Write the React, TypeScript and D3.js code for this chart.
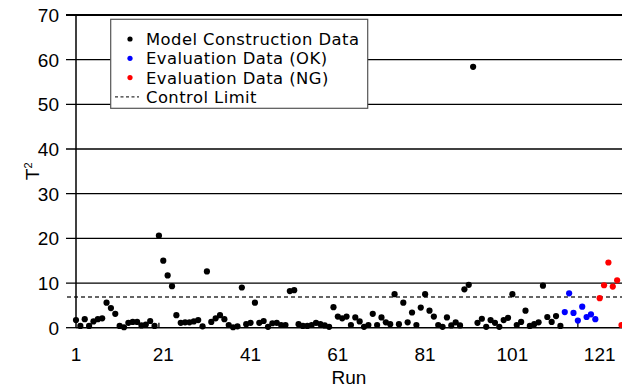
import React from "react";
import * as d3 from "d3";

const modelValues = [
  1.7, 0.4, 1.9, 0.4, 1.4, 1.9, 2.1, 5.6, 4.4, 3.1,
  0.4, 0.1, 1.1, 1.3, 1.3, 0.5, 0.7, 1.5, 0.4, 20.6,
  15.0, 11.7, 9.3, 2.8, 1.1, 1.2, 1.2, 1.4, 1.7, 0.3,
  12.6, 1.3, 2.1, 2.8, 1.9, 0.6, 0.1, 0.3, 9.0, 0.8,
  1.1, 5.6, 1.1, 1.5, 0.2, 1.0, 1.1, 0.6, 0.6, 8.2,
  8.4, 0.8, 0.4, 0.4, 0.6, 1.1, 0.8, 0.5, 0.2, 4.6,
  2.5, 2.1, 2.5, 0.6, 2.3, 1.4, 0.2, 0.6, 3.1, 0.6,
  2.3, 1.2, 0.8, 7.5, 0.8, 5.6, 1.2, 3.4, 0.6, 4.5,
  7.5, 3.8, 2.5, 0.6, 0.2, 2.3, 0.5, 1.2, 0.5, 8.6,
  9.6, 58.4, 1.1, 2.0, 0.2, 1.7, 1.1, 0.2, 1.7, 2.2,
  7.5, 0.6, 1.3, 3.8, 0.4, 0.8, 1.2, 9.4, 2.4, 1.3,
  2.6, 0.4,
];
const okValues = [3.5, 7.7, 3.3, 1.6, 4.7, 2.4, 3.0, 1.9];
const ngValues = [6.6, 9.5, 14.6, 9.2, 10.6, 0.6];
const controlLimit = 6.9;
const xTickLabels = [1, 21, 41, 61, 81, 101, 121];
const yTickValues = [0, 10, 20, 30, 40, 50, 60, 70];
const legendItems = [
  "Model Construction Data",
  "Evaluation Data (OK)",
  "Evaluation Data (NG)",
  "Control Limit",
];

const W = 622;
const H = 389;

export default function App() {
  const nModel = modelValues.length;
  const nOk = okValues.length;
  const nNg = ngValues.length;
  const nTotal = nModel + nOk + nNg;

  const x = d3.scaleLinear().domain([1, nTotal]).range([76, 621.5]);
  const y = d3.scaleLinear().domain([0, 70]).range([327.7, 15]);

  const points = [
    ...modelValues.map((v, i) => ({ run: i + 1, v, c: "#000" })),
    ...okValues.map((v, i) => ({ run: nModel + i + 1, v, c: "#0000ff" })),
    ...ngValues.map((v, i) => ({ run: nModel + nOk + i + 1, v, c: "#ff0000" })),
  ];

  const tickFont = "'Liberation Sans Narrow', 'Arial Narrow', 'Liberation Sans', sans-serif";
  const legendFont = "'DejaVu Sans', sans-serif";
  const plotLeft = x(1);
  const plotRight = W;

  return (
    <svg
      width={W}
      height={H}
      style={{ position: "absolute", left: 0, top: 0, background: "#fff" }}
    >
      <defs>
        <clipPath id="plotclip">
          <rect x={plotLeft - 6} y={0} width={W} height={H} />
        </clipPath>
      </defs>
      {/* gridlines */}
      {yTickValues.map((t) => (
        <g key={t}>
          {t > 0 && (
            <line
              x1={66}
              x2={plotRight}
              y1={y(t)}
              y2={y(t)}
              stroke="#000"
              strokeWidth={t === 70 ? 1.8 : 1.3}
            />
          )}
          {t === 0 && (
            <line x1={66} x2={plotLeft} y1={y(t)} y2={y(t)} stroke="#000" strokeWidth={1.3} />
          )}
          <text
            x={59}
            y={y(t)}
            dy="0.36em"
            textAnchor="end"
            fontFamily={tickFont}
            fontSize={19}
            fill="#000"
          >
            {t}
          </text>
        </g>
      ))}
      {/* control limit */}
      <line
        x1={67}
        x2={plotRight}
        y1={y(controlLimit)}
        y2={y(controlLimit)}
        stroke="#333"
        strokeWidth={1.5}
        strokeDasharray="4 3"
      />
      {/* axes */}
      <line x1={plotLeft} x2={plotLeft} y1={y(70)} y2={y(0)} stroke="#000" strokeWidth={1.5} />
      <line x1={plotLeft} x2={plotRight} y1={y(0)} y2={y(0)} stroke="#000" strokeWidth={1.5} />
      {[20, 116].map((r) => (
        <line key={r} x1={x(r)} x2={x(r)} y1={y(0)} y2={y(0) - 5} stroke="#000" strokeWidth={1.3} />
      ))}
      {/* points */}
      <g clipPath="url(#plotclip)">
        {points.map((p) => (
          <circle key={p.run} cx={x(p.run)} cy={y(p.v)} r={3.1} fill={p.c} />
        ))}
      </g>
      {/* x tick labels */}
      {xTickLabels.map((t) => (
        <text
          key={t}
          x={x(t)}
          y={354}
          dy="0.36em"
          textAnchor="middle"
          fontFamily={tickFont}
          fontSize={19}
          fill="#000"
        >
          {t}
        </text>
      ))}
      <text
        x={349}
        y={377}
        dy="0.36em"
        textAnchor="middle"
        fontFamily={tickFont}
        fontSize={19}
        fill="#000"
      >
        Run
      </text>
      <text
        transform={`translate(32,${y(35)}) rotate(-90)`}
        textAnchor="middle"
        dy="0.36em"
        fontFamily={tickFont}
        fontSize={19}
        fill="#000"
      >
        T<tspan fontSize={11} dy="-0.6em">2</tspan>
      </text>
      {/* legend */}
      <g>
        <rect x={110.7} y={19.3} width={257} height={89} fill="#fff" stroke="#555" strokeWidth={1.2} />
        {legendItems.map((label, i) => {
          const cy = 39 + i * 19.3;
          return (
            <g key={label}>
              {i < 3 ? (
                <circle cx={130} cy={cy} r={2.6} fill={["#000", "#0000ff", "#ff0000"][i]} />
              ) : (
                <line
                  x1={115}
                  x2={139}
                  y1={cy}
                  y2={cy}
                  stroke="#333"
                  strokeWidth={1.2}
                  strokeDasharray="3 2.5"
                />
              )}
              <text
                x={146}
                y={cy}
                dy="0.36em"
                fontFamily={legendFont}
                fontSize={16.4}
                letterSpacing={0.45}
                fill="#000"
              >
                {label}
              </text>
            </g>
          );
        })}
      </g>
    </svg>
  );
}
